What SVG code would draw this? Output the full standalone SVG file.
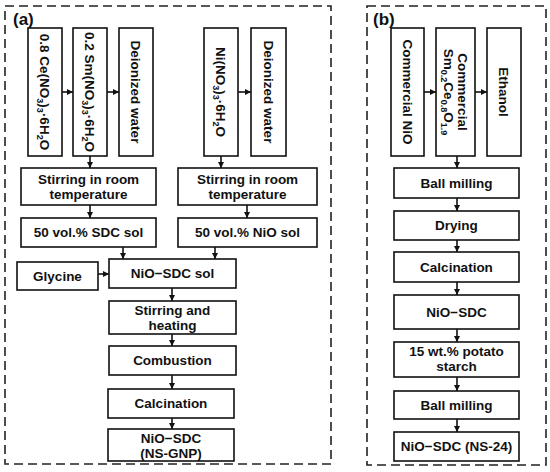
<svg xmlns="http://www.w3.org/2000/svg" width="550" height="472" viewBox="0 0 550 472">
<defs>
<marker id="ah" viewBox="0 0 6 6" refX="6" refY="3" markerWidth="6" markerHeight="6" markerUnits="userSpaceOnUse" orient="auto">
<path d="M0,0 L6,3 L0,6 Z" fill="#111"/>
</marker>
<style>
.box{fill:#fff;stroke:#111;stroke-width:1.6}
.frame{fill:none;stroke:#222;stroke-width:1.6;stroke-dasharray:9 5}
.t{font-family:"Liberation Sans",Arial,sans-serif;font-weight:bold;font-size:13.5px;fill:#111;text-anchor:middle}
.lab{font-family:"Liberation Sans",Arial,sans-serif;font-weight:bold;font-size:17px;fill:#111}
.s{font-size:9px}
.c line{stroke:#111;stroke-width:1.6;marker-end:url(#ah)}
</style>
</defs>
<rect class="frame" x="5" y="6" width="326" height="458"/>
<rect class="frame" x="367" y="6" width="179" height="459"/>
<text class="lab" x="13" y="25">(a)</text>
<text class="lab" x="373" y="25">(b)</text>

<g id="ce"><rect class="box" x="28" y="28" width="34" height="128"/>
<text class="t" transform="translate(45,92) rotate(90)" dy="5">0.8 Ce(NO<tspan class="s" dy="3">3</tspan><tspan dy="-3">)</tspan><tspan class="s" dy="3">3</tspan><tspan dy="-3">·6H</tspan><tspan class="s" dy="3">2</tspan><tspan dy="-3">O</tspan></text></g>
<g id="sm"><rect class="box" x="73" y="28" width="34" height="128"/>
<text class="t" transform="translate(90,92) rotate(90)" dy="5">0.2 Sm(NO<tspan class="s" dy="3">3</tspan><tspan dy="-3">)</tspan><tspan class="s" dy="3">3</tspan><tspan dy="-3">·6H</tspan><tspan class="s" dy="3">2</tspan><tspan dy="-3">O</tspan></text></g>
<g id="dw1"><rect class="box" x="119" y="28" width="34" height="128"/>
<text class="t" transform="translate(136,92) rotate(90)" dy="5">Deionized water</text></g>
<g id="ni"><rect class="box" x="204" y="28" width="34" height="128"/>
<text class="t" transform="translate(221,92) rotate(90)" dy="5">Ni(NO<tspan class="s" dy="3">3</tspan><tspan dy="-3">)</tspan><tspan class="s" dy="3">3</tspan><tspan dy="-3">·6H</tspan><tspan class="s" dy="3">2</tspan><tspan dy="-3">O</tspan></text></g>
<g id="dw2"><rect class="box" x="251" y="28" width="35" height="128"/>
<text class="t" transform="translate(268.5,92) rotate(90)" dy="5">Deionized water</text></g>

<g id="stir1"><rect class="box" x="21" y="168" width="135" height="37"/>
<text class="t" x="88.5" y="184">Stirring in room</text><text class="t" x="88.5" y="199">temperature</text></g>
<g id="stir2"><rect class="box" x="178" y="168" width="139" height="37"/>
<text class="t" x="247.5" y="184">Stirring in room</text><text class="t" x="247.5" y="199">temperature</text></g>
<g id="sdcsol"><rect class="box" x="21" y="218" width="135" height="29"/>
<text class="t" x="88.5" y="237">50 vol.% SDC sol</text></g>
<g id="niosol"><rect class="box" x="178" y="218" width="139" height="29"/>
<text class="t" x="247.5" y="237">50 vol.% NiO sol</text></g>
<g id="gly"><rect class="box" x="17" y="262" width="81" height="28"/>
<text class="t" x="57.5" y="281">Glycine</text></g>
<g id="niosdcsol"><rect class="box" x="109" y="259" width="127" height="29"/>
<text class="t" x="172.5" y="278">NiO−SDC sol</text></g>
<g id="stirheat"><rect class="box" x="109" y="301" width="127" height="33"/>
<text class="t" x="172.5" y="315">Stirring and</text><text class="t" x="172.5" y="330">heating</text></g>
<g id="comb"><rect class="box" x="109" y="346" width="127" height="29"/>
<text class="t" x="172.5" y="365">Combustion</text></g>
<g id="calc1"><rect class="box" x="108" y="389" width="126" height="29"/>
<text class="t" x="171" y="408">Calcination</text></g>
<g id="nsgnp"><rect class="box" x="108" y="429" width="126" height="32"/>
<text class="t" x="171" y="443">NiO−SDC</text><text class="t" x="171" y="458">(NS-GNP)</text></g>

<g id="cnio"><rect class="box" x="391" y="28" width="33" height="128"/>
<text class="t" transform="translate(407.5,92) rotate(90)" dy="5">Commercial NiO</text></g>
<g id="csdc"><rect class="box" x="436" y="28" width="39" height="128"/>
<text class="t" transform="translate(455.5,92) rotate(90)" dy="-2">Commercial</text>
<text class="t" transform="translate(455.5,92) rotate(90)" dy="12">Sm<tspan class="s" dy="3">0.2</tspan><tspan dy="-3">Ce</tspan><tspan class="s" dy="3">0.8</tspan><tspan dy="-3">O</tspan><tspan class="s" dy="3">1.9</tspan></text></g>
<g id="eth"><rect class="box" x="487" y="28" width="34" height="128"/>
<text class="t" transform="translate(504,92) rotate(90)" dy="5">Ethanol</text></g>
<g id="bm1"><rect class="box" x="394" y="168" width="125" height="30"/>
<text class="t" x="456.5" y="188">Ball milling</text></g>
<g id="dry"><rect class="box" x="394" y="211" width="125" height="29"/>
<text class="t" x="456.5" y="230">Drying</text></g>
<g id="calc2"><rect class="box" x="394" y="252" width="125" height="30"/>
<text class="t" x="456.5" y="272">Calcination</text></g>
<g id="niosdc"><rect class="box" x="394" y="295" width="125" height="34"/>
<text class="t" x="456.5" y="317">NiO−SDC</text></g>
<g id="starch"><rect class="box" x="394" y="342" width="125" height="35"/>
<text class="t" x="456.5" y="356">15 wt.% potato</text><text class="t" x="456.5" y="371">starch</text></g>
<g id="bm2"><rect class="box" x="394" y="391" width="125" height="28"/>
<text class="t" x="456.5" y="410">Ball milling</text></g>
<g id="ns24"><rect class="box" x="394" y="432" width="125" height="29"/>
<text class="t" x="456.5" y="451">NiO−SDC (NS-24)</text></g>

<g id="connectors" class="c">
<line x1="62" y1="92" x2="73" y2="92"/>
<line x1="107" y1="92" x2="119" y2="92"/>
<line x1="238" y1="92" x2="251" y2="92"/>
<line x1="90" y1="156" x2="90" y2="168"/>
<line x1="221" y1="156" x2="221" y2="168"/>
<line x1="90" y1="205" x2="90" y2="218"/>
<line x1="247" y1="205" x2="247" y2="218"/>
<line x1="123" y1="247" x2="123" y2="259"/>
<line x1="215" y1="247" x2="215" y2="259"/>
<line x1="98" y1="274" x2="109" y2="274"/>
<line x1="172" y1="288" x2="172" y2="301"/>
<line x1="172" y1="334" x2="172" y2="346"/>
<line x1="172" y1="375" x2="172" y2="389"/>
<line x1="172" y1="418" x2="172" y2="429"/>
<line x1="424" y1="92" x2="436" y2="92"/>
<line x1="475" y1="92" x2="487" y2="92"/>
<line x1="457" y1="156" x2="457" y2="168"/>
<line x1="457" y1="198" x2="457" y2="211"/>
<line x1="457" y1="240" x2="457" y2="252"/>
<line x1="457" y1="282" x2="457" y2="295"/>
<line x1="457" y1="329" x2="457" y2="342"/>
<line x1="457" y1="377" x2="457" y2="391"/>
<line x1="457" y1="419" x2="457" y2="432"/>
</g>
</svg>
